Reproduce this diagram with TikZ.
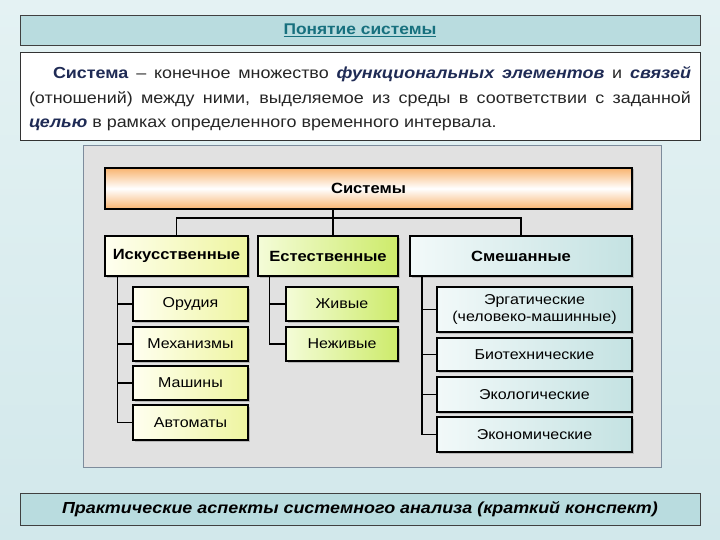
\documentclass[tikz,border=0pt]{standalone}
\usepackage{fontspec}
\setmainfont{Liberation Sans}[FakeStretch=1.12]
\usetikzlibrary{shadows}
\definecolor{bgA}{HTML}{E4F2F3}
\definecolor{bgB}{HTML}{D2E8EB}
\definecolor{titlefill}{HTML}{B9DCDF}
\definecolor{titletext}{HTML}{17707E}
\definecolor{navy}{HTML}{1F2B55}
\definecolor{panelfill}{HTML}{E1E1E1}
\definecolor{paneldraw}{HTML}{7D8C9C}
\definecolor{sysor}{HTML}{F8B470}
\definecolor{yelA}{HTML}{FFFFF0}
\definecolor{yelB}{HTML}{EEF5A0}
\definecolor{grnA}{HTML}{F4FCD8}
\definecolor{grnB}{HTML}{CDEB6A}
\definecolor{cyaA}{HTML}{F2F9F9}
\definecolor{cyaB}{HTML}{C4E2E2}
\begin{document}
\begin{tikzpicture}[x=1pt,y=-1pt,
  band/.style={draw=black!75, line width=0.9pt, fill=titlefill, minimum width=680pt, inner sep=0pt},
  bx/.style={draw=black, line width=1.6pt, inner sep=2pt, align=center,
     font=\fontsize{14.3}{16.5}\selectfont,
     drop shadow={shadow xshift=1.5pt, shadow yshift=-1.5pt, fill=black!35, opacity=0.7}},
  headbx/.style={bx, font=\fontsize{14.8}{17}\selectfont\bfseries},
  yelbox/.style={bx, left color=yelA, right color=yelB},
  grnbox/.style={bx, left color=grnA, right color=grnB},
  cyabox/.style={bx, left color=cyaA, right color=cyaB},
  conn/.style={line width=1.8pt, black}]
\useasboundingbox (0,0) rectangle (720,540);
\shade[top color=bgA, bottom color=bgB] (0,0) rectangle (720,540);
% title
\node[band, minimum height=30pt, font=\fontsize{15.5}{18}\selectfont\bfseries, text=titletext] (title) at (360,30) {\underline{Понятие системы}};
% definition
\node[draw=black!80, line width=0.9pt, fill=white, minimum width=680pt, minimum height=88pt, inner sep=0pt] (defbox) at (360,96) {};
\node[text width=662pt, align=justify, inner sep=0pt, font=\fontsize{16}{24.5}\selectfont, text=black!85] (deftext) at (360,99)
 {\hspace*{24pt}{\bfseries\color{navy}Система} -- конечное множество {\bfseries\itshape\color{navy}функциональных элементов} и {\bfseries\itshape\color{navy}связей}\linebreak (отношений) между ними, выделяемое из среды в соответствии с заданной\linebreak {\bfseries\itshape\color{navy}целью} в рамках определенного временного интервала.};
% panel
\node[draw=paneldraw, line width=0.9pt, fill=panelfill, minimum width=578pt, minimum height=322pt, inner sep=0pt] (panel) at (372,306) {};
% top
\node[headbx, top color=sysor, bottom color=sysor, middle color=white, minimum width=527pt, minimum height=41pt] (sys) at (368.5,188.5) {Системы};
\node[headbx, left color=yelA, right color=yelB, minimum width=143pt, minimum height=40pt] (art) at (176.5,256) {Искусственные};
\node[headbx, left color=grnA, right color=grnB, minimum width=140pt, minimum height=40pt] (nat) at (328,256) {Естественные};
\node[headbx, left color=cyaA, right color=cyaB, minimum width=222pt, minimum height=40pt] (mix) at (521,256) {Смешанные};
% left children
\node[yelbox, minimum width=115pt, minimum height=34pt] (a1) at (190.5,304) {Орудия};
\node[yelbox, minimum width=115pt, minimum height=34pt] (a2) at (190.5,344) {Механизмы};
\node[yelbox, minimum width=115pt, minimum height=34pt] (a3) at (190.5,383) {Машины};
\node[yelbox, minimum width=115pt, minimum height=35pt] (a4) at (190.5,422.5) {Автоматы};
% middle children
\node[grnbox, minimum width=112pt, minimum height=34pt] (n1) at (342,304) {Живые};
\node[grnbox, minimum width=112pt, minimum height=34pt] (n2) at (342,344) {Неживые};
% right children
\node[cyabox, minimum width=195pt, minimum height=45pt] (m1) at (534.5,309.5) {Эргатические\\(человеко-машинные)};
\node[cyabox, minimum width=195pt, minimum height=33pt] (m2) at (534.5,354.5) {Биотехнические};
\node[cyabox, minimum width=195pt, minimum height=35pt] (m3) at (534.5,394.5) {Экологические};
\node[cyabox, minimum width=195pt, minimum height=35pt] (m4) at (534.5,434.5) {Экономические};
% connectors top
\coordinate (bus) at (333,218);
\draw[conn] (art.north) |- (bus) -| (mix.north);
\draw[conn] (sys.south -| bus) -- (nat.north -| bus);
% left trunk
\coordinate (lt) at (117.5,276);
\draw[conn] (art.south -| lt) |- (a4.west);
\foreach \c in {a1,a2,a3} \draw[conn] (\c.west -| lt) -- (\c.west);
% middle trunk
\coordinate (nt) at (269.5,276);
\draw[conn] (nat.south -| nt) |- (n2.west);
\draw[conn] (n1.west -| nt) -- (n1.west);
% right trunk
\coordinate (mt) at (422,276);
\draw[conn] (mix.south -| mt) |- (m4.west);
\foreach \c in {m1,m2,m3} \draw[conn] (\c.west -| mt) -- (\c.west);
% bottom band
\node[band, minimum height=32pt, font=\fontsize{16}{19}\selectfont\bfseries\itshape] (foot) at (360,509) {Практические аспекты системного анализа (краткий конспект)};
\end{tikzpicture}
\end{document}
